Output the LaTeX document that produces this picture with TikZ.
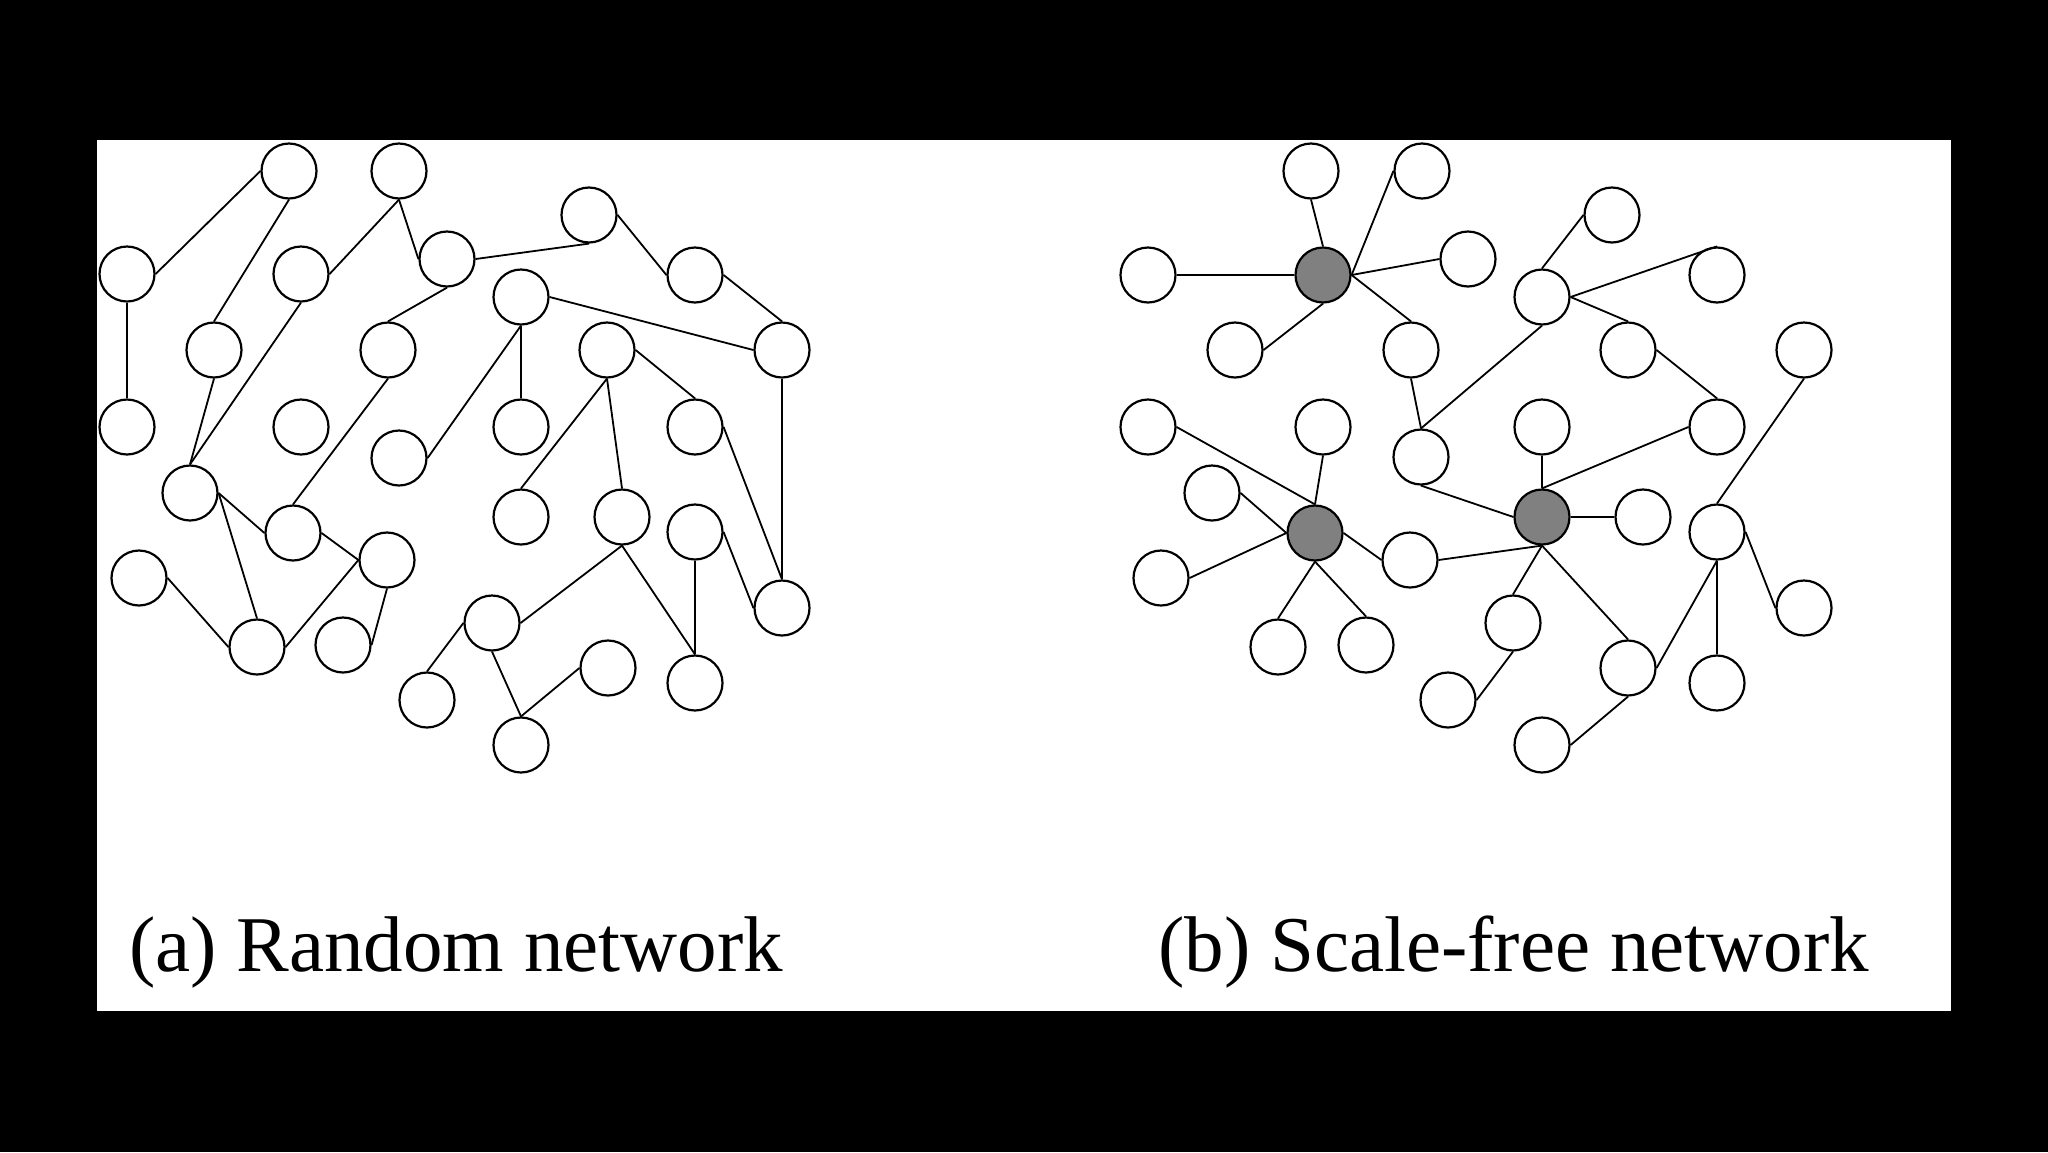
\documentclass[tikz,border=0pt]{standalone}
\usepackage{fontspec}
\setmainfont{Liberation Serif}
\definecolor{hubgray}{RGB}{128,128,128}
\begin{document}
\begin{tikzpicture}[x=1pt,y=-1pt,
  nd/.style={circle,draw=black,line width=2.2pt,fill=white,minimum size=55pt,inner sep=0pt},
  hub/.style={nd,fill=hubgray},
  ed/.style={line width=1.8pt},
  captext/.style={anchor=base west,inner sep=0pt,font=\fontsize{79}{90}\selectfont}]
\fill[black] (0,0) rectangle (2048,1152);
\fill[white] (97,140) rectangle (1951,1011);
\useasboundingbox (0,0) rectangle (2048,1152);
% ---------- (a) random network ----------
\node[nd] (A1) at (289,171) {};
\node[nd] (A2) at (399,171) {};
\node[nd] (A3) at (127,274) {};
\node[nd] (A4) at (301,274) {};
\node[nd] (A5) at (447,259) {};
\node[nd] (A6) at (521,297) {};
\node[nd] (A7) at (214,350) {};
\node[nd] (A8) at (388,350) {};
\node[nd] (A9) at (127,427) {};
\node[nd] (A10) at (301,427) {};
\node[nd] (A11) at (399,458) {};
\node[nd] (A12) at (521,427) {};
\node[nd] (A13) at (190,493) {};
\node[nd] (A14) at (293,533) {};
\node[nd] (A15) at (589,215) {};
\node[nd] (A16) at (695,275) {};
\node[nd] (A17) at (607,350) {};
\node[nd] (A18) at (782,350) {};
\node[nd] (A19) at (695,427) {};
\node[nd] (A20) at (521,517) {};
\node[nd] (A21) at (622,517) {};
\node[nd] (A22) at (695,532) {};
\node[nd] (A23) at (782,608) {};
\node[nd] (A24) at (492,623) {};
\node[nd] (A25) at (608,668) {};
\node[nd] (A26) at (695,683) {};
\node[nd] (A27) at (427,700) {};
\node[nd] (A28) at (521,745) {};
\node[nd] (A29) at (387,560) {};
\node[nd] (A30) at (139,578) {};
\node[nd] (A31) at (257,647) {};
\node[nd] (A32) at (343,645) {};
\foreach \a/\b in {A3.east/A1.west, A3.south/A9.north, A1.south/A7.north,
  A2.south/A4.east, A2.south/A5.west, A5.east/A15.south, A5.south/A8.north,
  A7.south/A13.north, A4.south/A13.north, A8.south/A14.north,
  A6.south/A11.east, A6.south/A12.north, A6.east/A18.west,
  A13.east/A14.west, A13.east/A31.north, A14.east/A29.west,
  A29.west/A31.east, A29.south/A32.east, A30.east/A31.west,
  A15.east/A16.west, A16.east/A18.north, A17.east/A19.north,
  A17.south/A20.north, A17.south/A21.north, A18.south/A23.north,
  A19.east/A23.north, A22.east/A23.west, A22.south/A26.north,
  A21.south/A26.north, A24.east/A21.south, A24.west/A27.north,
  A24.south/A28.north, A28.north/A25.west}
  \draw[ed] (\a) -- (\b);
% ---------- (b) scale-free network ----------
\node[nd] (B1) at (1311,171) {};
\node[nd] (B2) at (1422,171) {};
\node[nd] (B3) at (1148,275) {};
\node[hub] (H1) at (1323,275) {};
\node[nd] (B4) at (1468,259) {};
\node[nd] (B5) at (1235,350) {};
\node[nd] (B6) at (1411,350) {};
\node[nd] (B7) at (1148,427) {};
\node[nd] (B8) at (1323,427) {};
\node[nd] (B9) at (1421,457) {};
\node[nd] (B10) at (1212,493) {};
\node[hub] (H2) at (1315,533) {};
\node[nd] (B11) at (1542,297) {};
\node[nd] (B12) at (1612,215) {};
\node[nd] (B14) at (1717,275) {};
\node[nd] (B15) at (1628,350) {};
\node[nd] (B16) at (1804,350) {};
\node[nd] (B17) at (1542,427) {};
\node[nd] (B18) at (1717,427) {};
\node[hub] (H3) at (1542,517) {};
\node[nd] (B19) at (1643,517) {};
\node[nd] (B20) at (1717,532) {};
\node[nd] (B21) at (1804,608) {};
\node[nd] (B22) at (1513,623) {};
\node[nd] (B23) at (1628,668) {};
\node[nd] (B24) at (1717,683) {};
\node[nd] (B25) at (1542,745) {};
\node[nd] (B26) at (1448,700) {};
\node[nd] (B27) at (1161,578) {};
\node[nd] (B28) at (1410,560) {};
\node[nd] (B29) at (1278,647) {};
\node[nd] (B30) at (1366,645) {};
\foreach \a/\b in {B1.south/H1.north, B2.west/H1.east, B3.east/H1.west,
  H1.east/B4.west, H1.south/B5.east, H1.east/B6.north, B6.south/B9.north,
  B9.north/B11.south, B9.south/H3.west, B7.east/H2.north, B8.south/H2.north,
  B10.east/H2.west, B27.east/H2.west, H2.east/B28.west, H2.south/B29.north,
  H2.south/B30.north, B28.east/H3.south, H3.south/B22.north,
  B22.south/B26.east, H3.south/B23.north, B23.south/B25.east,
  B20.south/B23.east, B20.south/B24.north, B20.east/B21.west,
  B11.north/B12.west, B11.east/B14.north, B11.east/B15.north,
  B15.east/B18.north, B17.south/H3.north, H3.north/B18.west,
  H3.east/B19.west, B16.south/B20.north}
  \draw[ed] (\a) -- (\b);
% ---------- captions ----------
\node[captext] (capa) at (129,971) {(a) Random network};
\node[captext] (capb) at (1158,971) {(b) Scale-free network};
\end{tikzpicture}
\end{document}
